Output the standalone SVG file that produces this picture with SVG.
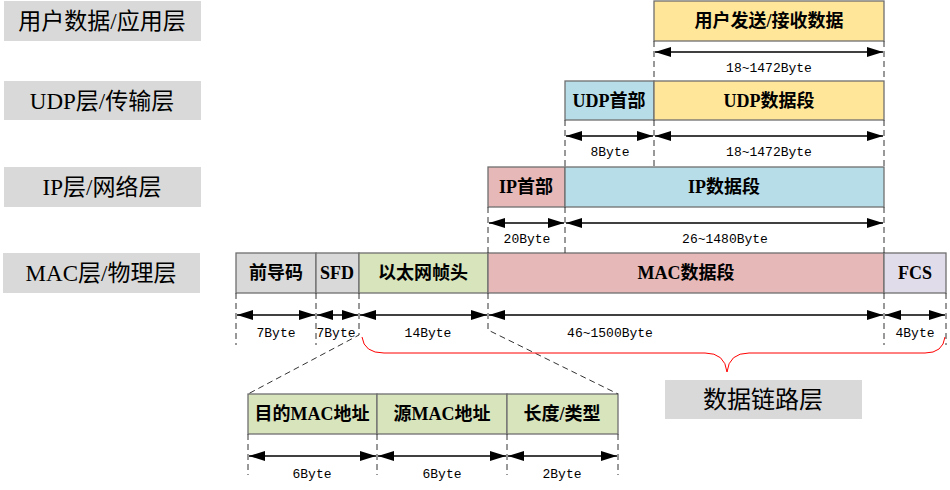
<svg xmlns="http://www.w3.org/2000/svg" width="950" height="490" viewBox="0 0 950 490">
<style>
.lbl{fill:#D9D9D9}
.lt{font-family:"Liberation Serif","Noto Sans CJK SC",serif;font-size:23px;fill:#000;text-anchor:middle}
.box{stroke:#6F6F6F;stroke-width:1.3}
.bt{font-family:"Liberation Serif","Noto Sans CJK SC",serif;font-size:18px;font-weight:bold;fill:#000;text-anchor:middle}
.dim{stroke:#000;stroke-width:1.5;marker-start:url(#as);marker-end:url(#ae)}
.dt{font-family:"Liberation Mono","Noto Sans CJK SC",monospace;font-size:13px;fill:#000;text-anchor:middle}
.dash{stroke:#333;stroke-width:1;stroke-dasharray:6,4;fill:none}
.y{fill:#FFE699}.b{fill:#B7DEE8}.p{fill:#E6B8B7}.g{fill:#D9D9D9}.gr{fill:#D8E4BC}.v{fill:#E1DCEA}
</style>
<defs>
<marker id="ae" viewBox="0 0 16 10" refX="16" refY="5" markerWidth="16" markerHeight="10" markerUnits="userSpaceOnUse" orient="auto"><path d="M0,0L16,5L0,10z" fill="#000"/></marker>
<marker id="as" viewBox="0 0 16 10" refX="0" refY="5" markerWidth="16" markerHeight="10" markerUnits="userSpaceOnUse" orient="auto"><path d="M16,0L0,5L16,10z" fill="#000"/></marker>
</defs>

<g id="layer-labels">
<g id="lbl-app"><rect class="lbl" x="4" y="1" width="197" height="40"/><text class="lt" x="102" y="29">用户数据/应用层</text></g>
<g id="lbl-udp"><rect class="lbl" x="4" y="81" width="197" height="39"/><text class="lt" x="102" y="109">UDP层/传输层</text></g>
<g id="lbl-ip"><rect class="lbl" x="4" y="167" width="197" height="40"/><text class="lt" x="102" y="195">IP层/网络层</text></g>
<g id="lbl-mac"><rect class="lbl" x="3" y="253" width="197" height="40"/><text class="lt" x="101" y="281">MAC层/物理层</text></g>
<g id="lbl-dll"><rect class="lbl" x="665" y="380" width="197" height="39"/><text class="lt" x="763" y="408" style="font-size:24px">数据链路层</text></g>
</g>

<g id="app-data"><rect class="box y" x="654" y="1" width="230" height="40"/><text class="bt" x="769" y="27">用户发送/接收数据</text></g>

<g id="udp-head"><rect class="box b" x="565" y="81" width="89" height="39"/><text class="bt" x="609" y="107">UDP首部</text></g>
<g id="udp-data"><rect class="box y" x="654" y="81" width="230" height="39"/><text class="bt" x="769" y="107">UDP数据段</text></g>

<g id="ip-head"><rect class="box p" x="488" y="167" width="77" height="40"/><text class="bt" x="526" y="193">IP首部</text></g>
<g id="ip-data"><rect class="box b" x="565" y="167" width="319" height="40"/><text class="bt" x="724" y="193">IP数据段</text></g>

<g id="mac-pre"><rect class="box g" x="236" y="253" width="80" height="40"/><text class="bt" x="276" y="279">前导码</text></g>
<g id="mac-sfd"><rect class="box g" x="316" y="253" width="43" height="40"/><text class="bt" x="337" y="279">SFD</text></g>
<g id="mac-eth"><rect class="box gr" x="359" y="253" width="129" height="40"/><text class="bt" x="423" y="279">以太网帧头</text></g>
<g id="mac-data"><rect class="box p" x="488" y="253" width="396" height="40"/><text class="bt" x="686" y="279">MAC数据段</text></g>
<g id="mac-fcs"><rect class="box v" x="884" y="253" width="62" height="40"/><text class="bt" x="915" y="279">FCS</text></g>

<g id="eth-dst"><rect class="box gr" x="248" y="394" width="129" height="40"/><text class="bt" x="312" y="420">目的MAC地址</text></g>
<g id="eth-src"><rect class="box gr" x="377" y="394" width="130" height="40"/><text class="bt" x="442" y="420">源MAC地址</text></g>
<g id="eth-type"><rect class="box gr" x="507" y="394" width="111" height="40"/><text class="bt" x="562" y="420">长度/类型</text></g>

<g id="connectors">
<path class="dash" d="M654,41V81M884,41V81M565,120V167M654,120V167M884,120V167M488,207V253M565,207V253M884,207V253M236,293V345M316,293V345M884,293V345M946,293V345M359,293V335L248,394M488,293V330L618,394M248,434V475M377,434V475M507,434V475M618,434V475"/>
<line class="dim" x1="655" y1="52" x2="883" y2="52"/>
<line class="dim" x1="566" y1="136" x2="653" y2="136"/>
<line class="dim" x1="655" y1="136" x2="883" y2="136"/>
<line class="dim" x1="489" y1="223" x2="564" y2="223"/>
<line class="dim" x1="566" y1="223" x2="883" y2="223"/>
<line class="dim" x1="237" y1="315" x2="315" y2="315"/>
<line class="dim" x1="317" y1="315" x2="358" y2="315"/>
<line class="dim" x1="360" y1="315" x2="487" y2="315"/>
<line class="dim" x1="489" y1="315" x2="883" y2="315"/>
<line class="dim" x1="885" y1="315" x2="945" y2="315"/>
<line class="dim" x1="249" y1="456" x2="376" y2="456"/>
<line class="dim" x1="378" y1="456" x2="506" y2="456"/>
<line class="dim" x1="508" y1="456" x2="617" y2="456"/>
<path d="M362,337Q364,353 384,353L705,353Q725,353 727,372Q729,353 749,353L925,353Q943,353 945,337" fill="none" stroke="#FF0000" stroke-width="1"/>
</g>

<g id="dim-labels">
<text class="dt" x="769" y="72">18~1472Byte</text>
<text class="dt" x="610" y="156">8Byte</text>
<text class="dt" x="769" y="156">18~1472Byte</text>
<text class="dt" x="527" y="243">20Byte</text>
<text class="dt" x="725" y="243">26~1480Byte</text>
<text class="dt" x="276" y="337">7Byte</text>
<text class="dt" x="336" y="337">7Byte</text>
<text class="dt" x="428" y="337">14Byte</text>
<text class="dt" x="610" y="337">46~1500Byte</text>
<text class="dt" x="915" y="337">4Byte</text>
<text class="dt" x="312" y="478">6Byte</text>
<text class="dt" x="442" y="478">6Byte</text>
<text class="dt" x="562" y="478">2Byte</text>
</g>
</svg>
